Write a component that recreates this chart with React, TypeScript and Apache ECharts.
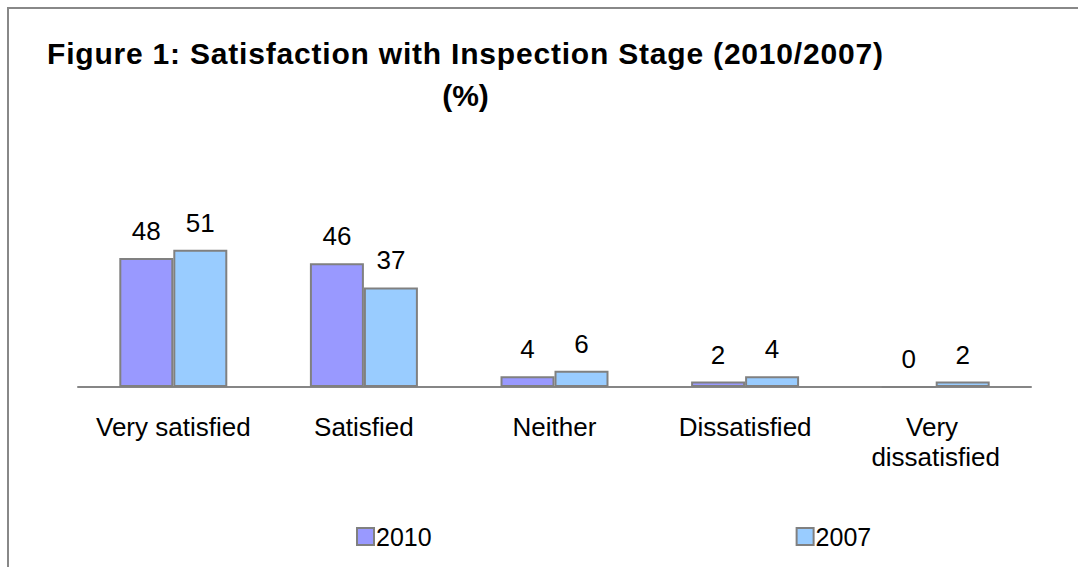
import React, { useEffect, useRef } from "react";
import * as echarts from "echarts";

const categories = ["Very satisfied", "Satisfied", "Neither", "Dissatisfied", "Very dissatisfied"];
const seriesNames = ["2010", "2007"];
const values2010 = [48, 46, 4, 2, 0];
const values2007 = [51, 37, 6, 4, 2];
const titleLine1 = "Figure 1: Satisfaction with Inspection Stage (2010/2007)";
const titleLine2 = "(%)";

const FONT = "'Liberation Sans', Arial, sans-serif";

export default function App() {
  const ref = useRef<HTMLDivElement>(null);
  useEffect(() => {
    if (!ref.current) return;
    const chart = echarts.init(ref.current, undefined, { renderer: "svg" });
    const barBase = {
      type: "bar" as const,
      barWidth: 54,
      barGap: "0%",
      label: {
        show: true,
        position: "top" as const,
        distance: 12,
        fontSize: 26,
        lineHeight: 30,
        color: "#000",
        fontFamily: FONT,
      },
    };
    chart.setOption({
      animation: false,
      backgroundColor: "#fff",
      textStyle: { fontFamily: FONT },
      graphic: [
        {
          type: "rect",
          shape: { x: 8, y: 8, width: 1200, height: 700 },
          style: { fill: "none", stroke: "#888888", lineWidth: 2 },
          silent: true,
        },
        {
          type: "text",
          x: 47,
          y: 53,
          style: {
            text: titleLine1,
            font: `bold 30px ${FONT}`,
            fill: "#000",
            textAlign: "left",
            textVerticalAlign: "middle",
          },
        },
        {
          type: "text",
          x: 465.5,
          y: 95,
          style: {
            text: titleLine2,
            font: `bold 30px ${FONT}`,
            fill: "#000",
            textAlign: "center",
            textVerticalAlign: "middle",
          },
        },
      ],
      legend: {
        data: seriesNames,
        left: 356,
        top: 524,
        padding: 0,
        itemWidth: 17,
        itemHeight: 17,
        itemGap: 364,
        icon: "rect",
        textStyle: { fontSize: 25, color: "#000", fontFamily: FONT, padding: [0, 0, 0, -3] },
      },
      grid: { left: 78, right: 47, top: 225.6, bottom: 180, containLabel: false },
      xAxis: {
        type: "category",
        data: categories,
        axisLine: { lineStyle: { color: "#868686", width: 2 } },
        axisTick: { length: 9, lineStyle: { color: "#868686", width: 2 } },
        axisLabel: {
          interval: 0,
          fontSize: 26,
          lineHeight: 30,
          color: "#000",
          margin: 25,
          width: 185,
          overflow: "break",
          fontFamily: FONT,
        },
      },
      yAxis: {
        type: "value",
        min: 0,
        max: 60,
        show: false,
        splitLine: { show: false },
      },
      series: [
        {
          ...barBase,
          name: seriesNames[0],
          data: values2010,
          itemStyle: { color: "#9999FF", borderColor: "#808080", borderWidth: 2 },
        },
        {
          ...barBase,
          name: seriesNames[1],
          data: values2007,
          itemStyle: { color: "#99CCFF", borderColor: "#808080", borderWidth: 2 },
        },
      ],
    });
    // slightly widen the title's letter spacing like the original rendering
    ref.current.querySelectorAll("text").forEach((t) => {
      if (t.textContent === titleLine1) {
        (t as SVGTextElement).style.letterSpacing = "0.8px";
      }
    });
    return () => chart.dispose();
  }, []);
  return (
    <div
      ref={ref}
      style={{ position: "absolute", left: 0, top: 0, width: 1078, height: 567 }}
    />
  );
}
